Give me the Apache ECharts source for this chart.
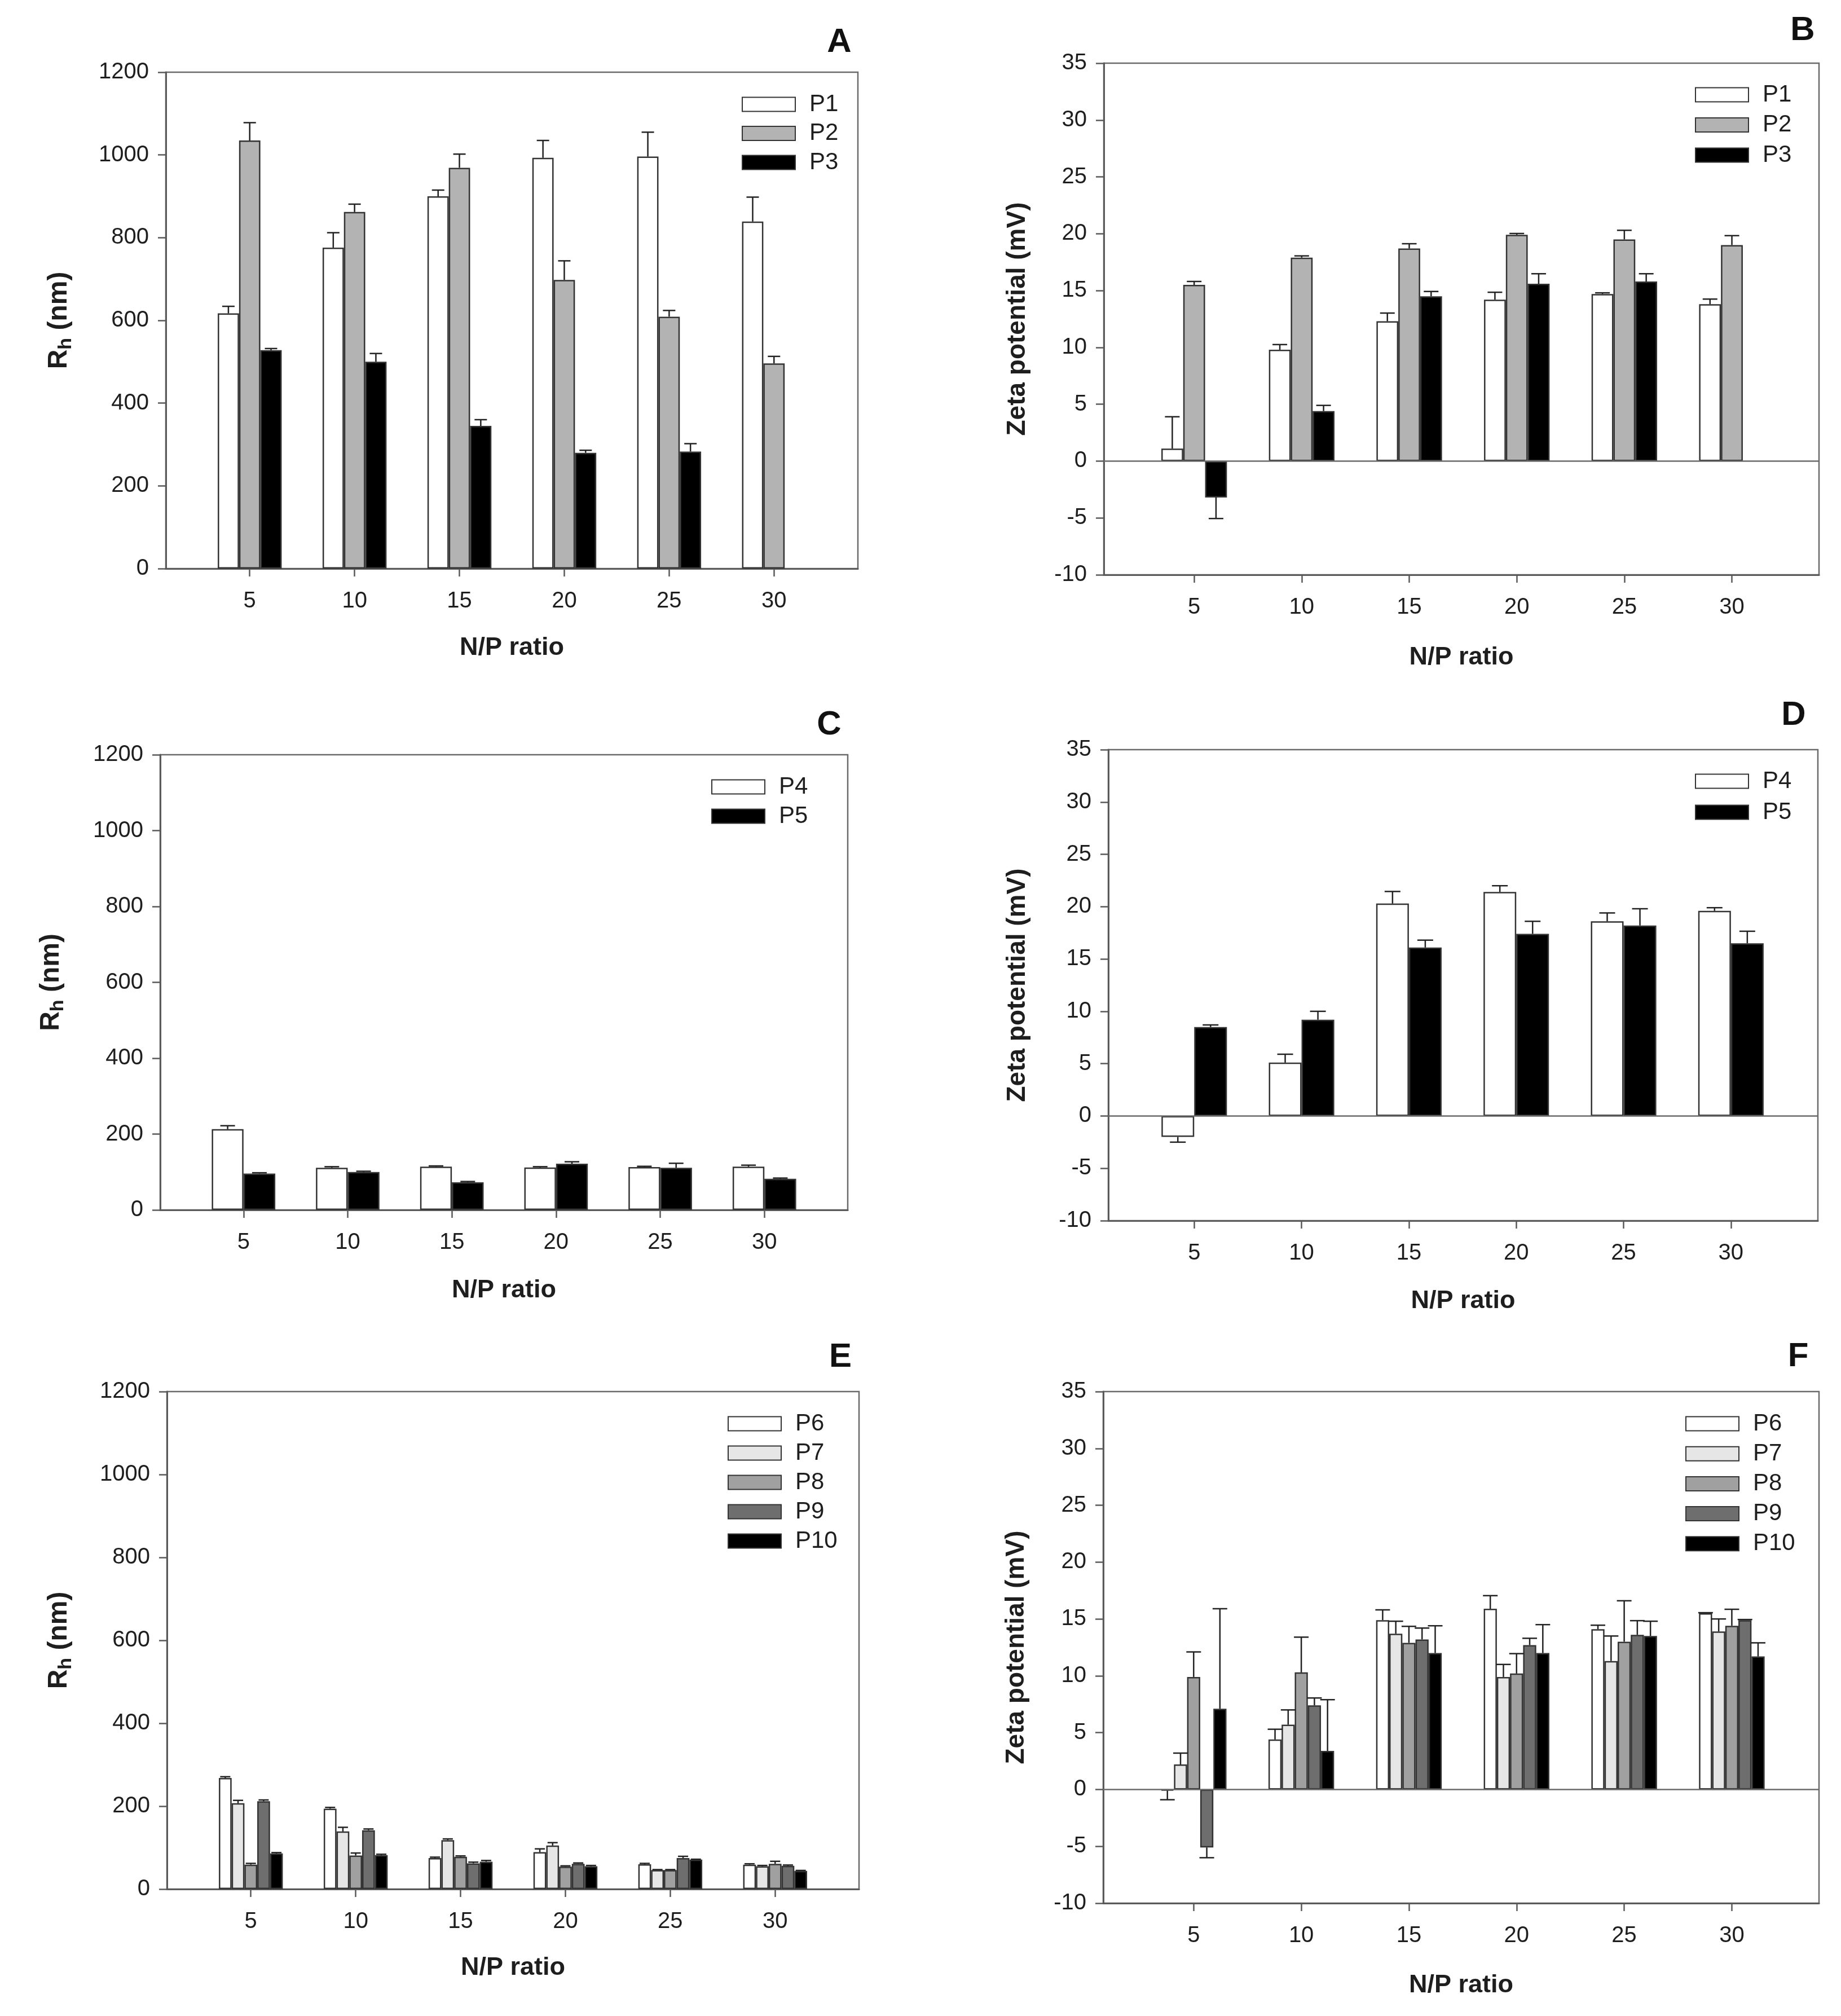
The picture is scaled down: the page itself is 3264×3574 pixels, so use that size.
<!DOCTYPE html>
<html>
<head>
<meta charset="utf-8">
<title>Rh and zeta potential versus N/P ratio</title>
<script src="https://cdn.jsdelivr.net/npm/echarts@6.0.0/dist/echarts.min.js"></script>
<style>
  html, body { margin: 0; padding: 0; background: #fff; }
  #chart { width: 3264px; height: 3574px; }
</style>
</head>
<body>
<div id="chart"></div>
<script>
// categories / ticks
var npRatio = [5, 10, 15, 20, 25, 30];
var rhTicks = [0, 200, 400, 600, 800, 1000, 1200];
var zetaTicks = [-10, -5, 0, 5, 10, 15, 20, 25, 30, 35];

// A - Rh (nm), P1..P3
var rhA_P1 = [617, 776, 900, 993, 996, 839];
var rhA_P1err = [17, 36, 15, 42, 59, 59];
var rhA_P2 = [1035, 862, 969, 698, 609, 496];
var rhA_P2err = [43, 19, 33, 46, 15, 17];
var rhA_P3 = [528, 500, 345, 280, 283, null];
var rhA_P3err = [4, 20, 15, 6, 19, null];

// B - zeta potential (mV), P1..P3
var zetaB_P1 = [1.1, 9.8, 12.3, 14.2, 14.7, 13.8];
var zetaB_P1err = [2.8, 0.45, 0.72, 0.65, 0.1, 0.45];
var zetaB_P2 = [15.5, 17.9, 18.7, 19.9, 19.5, 19.0];
var zetaB_P2err = [0.3, 0.15, 0.42, 0.12, 0.8, 0.83];
var zetaB_P3 = [-3.2, 4.4, 14.5, 15.6, 15.8, null];
var zetaB_P3err = [1.85, 0.5, 0.42, 0.88, 0.68, null];

// C - Rh (nm), P4..P5
var rhC_P4 = [213, 111, 114, 112, 113, 114];
var rhC_P4err = [9, 3, 2, 2, 2, 4];
var rhC_P5 = [96, 100, 73, 122, 111, 82];
var rhC_P5err = [2, 2, 2, 5, 12, 2];

// D - zeta potential (mV), P4..P5
var zetaD_P4 = [-2.0, 5.1, 20.3, 21.4, 18.6, 19.6];
var zetaD_P4err = [0.5, 0.8, 1.15, 0.6, 0.8, 0.3];
var zetaD_P5 = [8.5, 9.2, 16.1, 17.4, 18.2, 16.5];
var zetaD_P5err = [0.2, 0.8, 0.7, 1.2, 1.6, 1.15];

// E - Rh (nm), P6..P10
var rhE_P6 = [268, 194, 75, 89, 60, 59];
var rhE_P6err = [3, 3, 2, 8, 2, 2];
var rhE_P7 = [207, 139, 118, 105, 46, 55];
var rhE_P7err = [7, 10, 3, 7, 1, 2];
var rhE_P8 = [59, 81, 78, 54, 46, 61];
var rhE_P8err = [3, 6, 2, 2, 1, 6];
var rhE_P9 = [212, 142, 62, 61, 75, 56];
var rhE_P9err = [3, 3, 3, 2, 4, 2];
var rhE_P10 = [86, 82, 66, 55, 71, 44];
var rhE_P10err = [2, 2, 3, 2, 1, 1];

// F - zeta potential (mV), P6..P10
var zetaF_P6 = [-0.1, 4.4, 14.9, 15.9, 14.1, 15.5];
var zetaF_P6err = [0.8, 0.9, 0.9, 1.15, 0.35, 0.05];
var zetaF_P7 = [2.2, 5.7, 13.7, 9.9, 11.3, 13.9];
var zetaF_P7err = [1.0, 1.3, 1.1, 1.1, 2.2, 1.1];
var zetaF_P8 = [9.9, 10.3, 12.9, 10.2, 13.0, 14.4];
var zetaF_P8err = [2.2, 3.1, 1.45, 1.75, 3.6, 1.45];
var zetaF_P9 = [-5.1, 7.4, 13.2, 12.7, 13.6, 14.9];
var zetaF_P9err = [0.9, 0.65, 1.0, 0.6, 1.25, 0.05];
var zetaF_P10 = [7.1, 3.4, 12.0, 12.0, 13.5, 11.7];
var zetaF_P10err = [8.8, 4.5, 2.4, 2.5, 1.3, 1.2];

var FONT = 'Liberation Sans';
var TXT = '#1e1e1e';
var AXIS = '#5a5a5a';
var BAR_BORDER = '#333';

var fill3 = ['#ffffff', '#b3b3b3', '#000000'];
var fill2 = ['#ffffff', '#000000'];
var fill5 = ['#ffffff', '#e6e6e6', '#a0a0a0', '#6e6e6e', '#000000'];

// layout of the six panels (pixels)
var panels = [
  { id: 'A', kind: 'rh', left: 294, top: 128, width: 1227, height: 880, xMin: 1, xMax: 34,
    names: ['P1', 'P2', 'P3'], colors: fill3,
    values: [rhA_P1, rhA_P2, rhA_P3], errors: [rhA_P1err, rhA_P2err, rhA_P3err],
    xGap: 118, yGap: 160, letter: [1488, 75], lgLeft: 1310, lgRow: 180, lgStep: 51.5, cap: 11 },
  { id: 'B', kind: 'zeta', left: 1957, top: 112, width: 1268, height: 907, xMin: 0.8, xMax: 34.05,
    names: ['P1', 'P2', 'P3'], colors: fill3,
    values: [zetaB_P1, zetaB_P2, zetaB_P3], errors: [zetaB_P1err, zetaB_P2err, zetaB_P3err],
    xGap: 124, yGap: 130, letter: [3196, 54], lgLeft: 3000, lgRow: 163, lgStep: 53.5, cap: 13 },
  { id: 'C', kind: 'rh', left: 284, top: 1338, width: 1219, height: 807, xMin: 1, xMax: 34,
    names: ['P4', 'P5'], colors: fill2,
    values: [rhC_P4, rhC_P5], errors: [rhC_P4err, rhC_P5err],
    xGap: 120, yGap: 164, letter: [1470, 1285], lgLeft: 1256, lgRow: 1390, lgStep: 52, cap: 13 },
  { id: 'D', kind: 'zeta', left: 1965, top: 1329, width: 1258, height: 835, xMin: 1, xMax: 34.05,
    names: ['P4', 'P5'], colors: fill2,
    values: [zetaD_P4, zetaD_P5], errors: [zetaD_P4err, zetaD_P5err],
    xGap: 120, yGap: 138, letter: [3180, 1268], lgLeft: 3000, lgRow: 1380, lgStep: 55, cap: 14 },
  { id: 'E', kind: 'rh', left: 296, top: 2467, width: 1227, height: 882, xMin: 1, xMax: 34,
    names: ['P6', 'P7', 'P8', 'P9', 'P10'], colors: fill5,
    values: [rhE_P6, rhE_P7, rhE_P8, rhE_P9, rhE_P10],
    errors: [rhE_P6err, rhE_P7err, rhE_P8err, rhE_P9err, rhE_P10err],
    xGap: 117, yGap: 162, letter: [1490, 2406], lgLeft: 1285, lgRow: 2519, lgStep: 52, cap: 9 },
  { id: 'F', kind: 'zeta', left: 1956, top: 2467, width: 1269, height: 907, xMin: 0.8, xMax: 34.05,
    names: ['P6', 'P7', 'P8', 'P9', 'P10'], colors: fill5,
    values: [zetaF_P6, zetaF_P7, zetaF_P8, zetaF_P9, zetaF_P10],
    errors: [zetaF_P6err, zetaF_P7err, zetaF_P8err, zetaF_P9err, zetaF_P10err],
    xGap: 123, yGap: 131, letter: [3188, 2405], lgLeft: 2983, lgRow: 2519, lgStep: 53.2, cap: 13 }
];

var GROUP_UNITS = 3.05; // width of one bar cluster in x units

function errorBars(offset, cap) {
  return function (params, api) {
    var x = api.value(0), y = api.value(1), e = api.value(2);
    var end = y < 0 ? y - e : y + e;
    var p0 = api.coord([x, y]);
    var p1 = api.coord([x, end]);
    var cx = p0[0] + offset;
    var st = { stroke: '#222', lineWidth: 2.5 };
    return {
      type: 'group',
      children: [
        { type: 'line', shape: { x1: cx, y1: p0[1], x2: cx, y2: p1[1] }, style: st },
        { type: 'line', shape: { x1: cx - cap, y1: p1[1], x2: cx + cap, y2: p1[1] }, style: st }
      ]
    };
  };
}

function plainNumber(v) { return String(v); }

var grids = [], xAxes = [], yAxes = [], legends = [], series = [], graphics = [];

panels.forEach(function (p, k) {
  grids.push({
    left: p.left, top: p.top, width: p.width, height: p.height,
    show: true, borderColor: '#6a6a6a', borderWidth: 2.5, backgroundColor: 'transparent',
    outerBoundsMode: 'none'
  });

  xAxes.push({
    type: 'value', gridIndex: k, min: p.xMin, max: p.xMax,
    name: 'N/P ratio', nameLocation: 'middle', nameGap: p.xGap,
    nameTextStyle: { fontFamily: FONT, fontSize: 45, fontWeight: 'bold', color: TXT },
    axisLine: { show: true, onZero: false, lineStyle: { color: AXIS, width: 3 } },
    axisTick: { show: true, customValues: npRatio, length: 14, lineStyle: { color: AXIS, width: 2.5 } },
    axisLabel: { customValues: npRatio, formatter: plainNumber, fontFamily: FONT, fontSize: 40, color: TXT, margin: 38 },
    splitLine: { show: false }
  });

  var isRh = p.kind === 'rh';
  var ticks = isRh ? rhTicks : zetaTicks;
  yAxes.push({
    type: 'value', gridIndex: k,
    min: ticks[0], max: ticks[ticks.length - 1], interval: ticks[1] - ticks[0],
    name: isRh ? '{r|R}{s|h}{r| (nm)}' : 'Zeta potential (mV)',
    nameLocation: 'middle', nameRotate: 90, nameGap: p.yGap,
    nameTextStyle: {
      fontFamily: FONT, fontSize: 46, fontWeight: 'bold', color: TXT,
      rich: {
        r: { fontFamily: FONT, fontSize: 48, fontWeight: 'bold', color: TXT },
        s: { fontFamily: FONT, fontSize: 34, fontWeight: 'bold', color: TXT, padding: [24, 0, 0, 0] }
      }
    },
    axisLine: { show: true, onZero: false, lineStyle: { color: AXIS, width: 3 } },
    axisTick: { show: true, length: 14, lineStyle: { color: AXIS, width: 2.5 } },
    axisLabel: { formatter: plainNumber, fontFamily: FONT, fontSize: 40, color: TXT, margin: 30 },
    splitLine: { show: false }
  });

  legends.push({
    data: p.names, orient: 'vertical', left: p.lgLeft, top: p.lgRow - 21,
    itemWidth: 94, itemHeight: 25, itemGap: p.lgStep - 42, icon: 'rect',
    textStyle: { fontFamily: FONT, fontSize: 42, color: TXT, lineHeight: 42, padding: [0, 0, 0, 20] },
    selectedMode: false
  });

  var n = p.names.length;
  var unitPx = p.width / (p.xMax - p.xMin);
  var barW = GROUP_UNITS / n * unitPx;

  p.names.forEach(function (name, i) {
    var barData = [], errData = [];
    npRatio.forEach(function (np, j) {
      var v = p.values[i][j];
      if (v === null) return;
      barData.push([np, v]);
      errData.push([np, v, p.errors[i][j]]);
    });

    var bar = {
      type: 'bar', name: name, xAxisIndex: k, yAxisIndex: k,
      data: barData, barWidth: barW, barGap: '0%',
      itemStyle: { color: p.colors[i], borderColor: BAR_BORDER, borderWidth: 2.5 },
      emphasis: { disabled: true }, z: 3
    };
    if (!isRh && i === 0) {
      bar.markLine = {
        silent: true, symbol: 'none', label: { show: false },
        lineStyle: { color: '#6a6a6a', width: 2.5, type: 'solid' },
        data: [{ yAxis: 0 }]
      };
    }
    series.push(bar);

    series.push({
      type: 'custom', name: 'err-' + p.id + '-' + name, xAxisIndex: k, yAxisIndex: k,
      data: errData, encode: { x: 0, y: 1 }, z: 5, silent: true,
      renderItem: errorBars((i - (n - 1) / 2) * barW, p.cap)
    });
  });

  graphics.push({
    type: 'text', x: p.letter[0], y: p.letter[1],
    style: { text: p.id, fontFamily: FONT, fontSize: 60, fontWeight: 'bold', fill: '#111',
             align: 'center', verticalAlign: 'middle' }
  });
});

var chart = echarts.init(document.getElementById('chart'), null, { renderer: 'canvas' });
chart.setOption({
  backgroundColor: '#ffffff',
  animation: false,
  grid: grids,
  xAxis: xAxes,
  yAxis: yAxes,
  legend: legends,
  series: series,
  graphic: graphics
});
</script>
</body>
</html>
